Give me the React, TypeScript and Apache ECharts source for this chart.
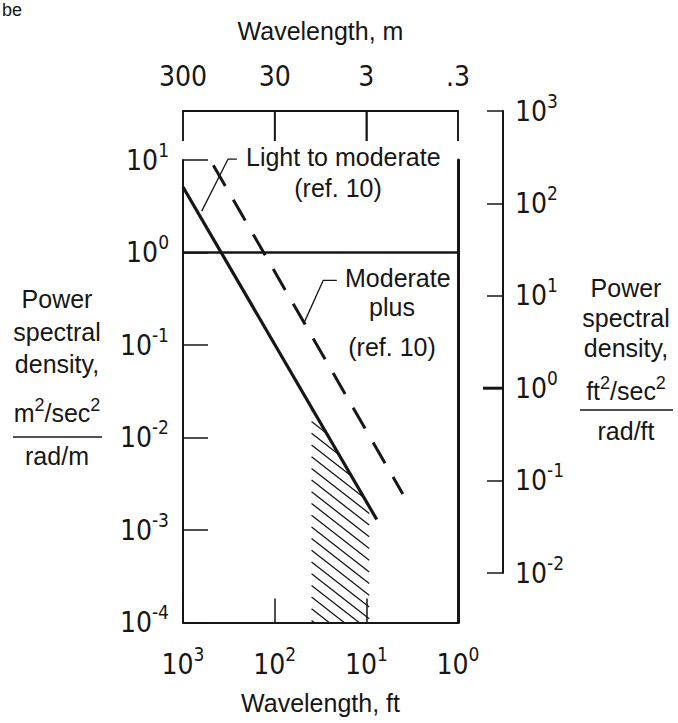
import React, { useEffect, useRef } from "react";
import * as echarts from "echarts";

// ---------------- data ----------------
const wavelengthFtRange = [1, 1000]; // bottom axis, ft
const topTickFt = [1000, 100, 10, 1]; // top-axis tick positions (ft)
const wavelengthMLabels = ["300", "30", "3", ".3"]; // top axis labels, m
const psdMetricRange = [1e-4, 10]; // left axis, m^2/sec^2 / rad/m
const psdImperialRange = [1e-2, 1e3]; // right axis, ft^2/sec^2 / rad/ft

// [wavelength ft, PSD m^2/sec^2/(rad/m)]
const lightToModerate: [number, number][] = [
  [1000, 5.1],
  [7.7, 1.3e-3],
];
const moderatePlus: [number, number][] = [
  [467, 8.8],
  [4.0, 2.45e-3],
];
const unitLevel: [number, number][] = [
  [1000, 1],
  [1, 1],
];
// hatched band under the solid line: [wavelength, PSD on line]
const hatchBand: [number, number][] = [
  [39.6, 0.021],
  [9.3, 0.0018],
];
const leaderLight: [number, number][] = [
  [625, 2.8],
  [323, 10.2],
  [258, 10.2],
];
const leaderPlus: [number, number][] = [
  [47, 0.18],
  [29.5, 0.5],
  [21, 0.5],
];
const imperialUnitMark: [number, number][] = [
  [0, 1],
  [1, 1],
];

// ---------------- styling ----------------
const INK = "#161616";
const SANS = "'Liberation Sans', Arial, sans-serif";
const NARROW =
  "'Liberation Sans Narrow', 'Arial Narrow', 'DejaVu Sans Condensed', 'Liberation Sans', sans-serif";
const TOP_OFFSET = 49;
const TOP_TICK_LEN = 30;

const expLabel = (v: number) => {
  const e = Math.round(Math.log10(v));
  return `{b|10}{s|${e}}`;
};
const richExp = {
  b: { fontSize: 28, fontFamily: NARROW, color: INK, lineHeight: 40 },
  s: {
    fontSize: 19,
    fontFamily: NARROW,
    color: INK,
    lineHeight: 14,
    verticalAlign: "top",
  },
};
const metreLabel = (v: number) => {
  const idx = 3 - Math.round(Math.log10(v));
  return wavelengthMLabels[idx] ?? "";
};

const txt = (text: string, x: number, y: number, extra: any = {}) => ({
  type: "text",
  x,
  y,
  silent: true,
  style: {
    text,
    fill: INK,
    fontSize: 25,
    fontFamily: SANS,
    textAlign: "center",
    textVerticalAlign: "middle",
    ...extra,
  },
});
const fracRich = {
  n: { fontSize: 25, fontFamily: SANS, color: INK, lineHeight: 34 },
  s: { fontSize: 18, fontFamily: SANS, color: INK, lineHeight: 14, verticalAlign: "top" },
};
const hline = (x1: number, x2: number, y: number) => ({
  type: "line",
  silent: true,
  shape: { x1, y1: y, x2, y2: y },
  style: { stroke: INK, lineWidth: 1.5 },
});

export default function App() {
  const ref = useRef<HTMLDivElement>(null);
  useEffect(() => {
    document.body.style.margin = "0";
    if (!ref.current) return;
    const chart = echarts.init(ref.current, undefined, { renderer: "svg" });

    const hatchRender = (params: any, api: any) => {
      const a = api.coord(hatchBand[0]);
      const b = api.coord(hatchBand[1]);
      const bottom = api.coord([hatchBand[0][0], psdMetricRange[0]])[1];
      const xL = a[0];
      const xR = b[0];
      const s = (b[1] - a[1]) / (xR - xL);
      const m = 0.78;
      const step = 11.7;
      const c0 = bottom - 2 - m * xL;
      const cMin = a[1] - m * xR - step;
      const cMax = bottom - m * xL + step;
      const children: any[] = [];
      for (let k = Math.floor((cMin - c0) / step); c0 + k * step <= cMax; k++) {
        const c = c0 + k * step;
        let lo = xL;
        let hi = xR;
        hi = Math.min(hi, (bottom - c) / m);
        const A = m - s;
        const B = a[1] - s * xL - c;
        if (A < 0) hi = Math.min(hi, B / A);
        else if (A > 0) lo = Math.max(lo, B / A);
        if (hi - lo > 0.5) {
          children.push({
            type: "line",
            shape: { x1: lo, y1: c + m * lo, x2: hi, y2: c + m * hi },
            style: { stroke: INK, lineWidth: 1.3 },
          });
        }
      }
      return { type: "group", children };
    };

    const noAxisExtras = {
      splitLine: { show: false },
      minorTick: { show: false },
      minorSplitLine: { show: false },
    };

    const baseGraphic: any[] = [
      txt("be", 2, 1, { textAlign: "left", textVerticalAlign: "top", fontSize: 18 }),
      // left axis title
      txt("Power", 57, 299),
      txt("spectral", 57, 332),
      txt("density,", 57, 364),
      txt("{n|m}{s|2}{n|/sec}{s|2}", 57, 413, { rich: fracRich }),
      hline(13, 102, 437),
      txt("rad/m", 57, 456),
      // right axis title
      txt("Power", 626, 288),
      txt("spectral", 626, 318),
      txt("density,", 626, 348),
      txt("{n|ft}{s|2}{n|/sec}{s|2}", 626, 391, { rich: fracRich }),
      hline(580, 673, 410),
      txt("rad/ft", 626, 431),
      // annotations
      txt("Light to moderate", 246, 157, { textAlign: "left" }),
      txt("(ref. 10)", 338, 188),
      txt("Moderate", 345, 278, { textAlign: "left" }),
      txt("plus", 392, 307),
      txt("(ref. 10)", 392, 347),
    ];

    chart.setOption({
      animation: false,
      backgroundColor: "#ffffff",
      grid: [
        { left: 183, top: 160, width: 275, height: 462.5, containLabel: false, outerBoundsMode: "none" },
        { left: 483, top: 111, width: 20, height: 462, containLabel: false, outerBoundsMode: "none" },
      ],
      xAxis: [
        {
          type: "log",
          gridIndex: 0,
          logBase: 10,
          min: wavelengthFtRange[0],
          max: wavelengthFtRange[1],
          inverse: true,
          splitNumber: 3,
          position: "bottom",
          axisLine: { show: true, onZero: false, lineStyle: { color: INK, width: 2 } },
          axisTick: { show: true, inside: true, length: 24, lineStyle: { color: INK, width: 1.5 } },
          axisLabel: {
            show: true,
            margin: 22,
            color: INK,
            formatter: expLabel,
            rich: richExp,
            hideOverlap: false,
            showMinLabel: true,
            showMaxLabel: true,
          },
          name: "Wavelength, ft",
          nameLocation: "middle",
          nameGap: 68,
          nameMoveOverlap: false,
          nameTextStyle: { color: INK, fontSize: 25, fontFamily: SANS },
          ...noAxisExtras,
        },
        {
          type: "log",
          gridIndex: 0,
          logBase: 10,
          min: wavelengthFtRange[0],
          max: wavelengthFtRange[1],
          inverse: true,
          splitNumber: 3,
          position: "top",
          offset: TOP_OFFSET,
          axisLine: { show: true, onZero: false, lineStyle: { color: INK, width: 2 } },
          axisTick: { show: true, inside: true, length: TOP_TICK_LEN, lineStyle: { color: INK, width: 1.5 } },
          axisLabel: {
            show: true,
            margin: 21,
            color: INK,
            fontSize: 28,
            fontFamily: NARROW,
            formatter: metreLabel,
            hideOverlap: false,
            showMinLabel: true,
            showMaxLabel: true,
          },
          name: "Wavelength, m",
          nameLocation: "middle",
          nameGap: 68,
          nameMoveOverlap: false,
          nameTextStyle: { color: INK, fontSize: 25, fontFamily: SANS },
          ...noAxisExtras,
        },
        {
          type: "value",
          gridIndex: 1,
          min: 0,
          max: 1,
          show: false,
          ...noAxisExtras,
        },
      ],
      yAxis: [
        {
          type: "log",
          gridIndex: 0,
          logBase: 10,
          min: psdMetricRange[0],
          max: psdMetricRange[1],
          splitNumber: 5,
          position: "left",
          axisLine: { show: true, onZero: false, lineStyle: { color: INK, width: 2 } },
          axisTick: { show: true, inside: true, length: 25, lineStyle: { color: INK, width: 1.5 } },
          axisLabel: {
            show: true,
            margin: 14,
            color: INK,
            formatter: expLabel,
            rich: richExp,
            hideOverlap: false,
            showMinLabel: true,
            showMaxLabel: true,
          },
          ...noAxisExtras,
        },
        {
          type: "log",
          gridIndex: 0,
          logBase: 10,
          min: psdMetricRange[0],
          max: psdMetricRange[1],
          position: "right",
          axisLine: { show: true, onZero: false, lineStyle: { color: INK, width: 3 } },
          axisTick: { show: false },
          axisLabel: { show: false },
          ...noAxisExtras,
        },
        {
          type: "log",
          gridIndex: 1,
          logBase: 10,
          min: psdImperialRange[0],
          max: psdImperialRange[1],
          splitNumber: 5,
          position: "right",
          axisLine: { show: true, onZero: false, lineStyle: { color: INK, width: 2 } },
          axisTick: { show: true, inside: true, length: 16, lineStyle: { color: INK, width: 1.5 } },
          axisLabel: {
            show: true,
            margin: 12,
            color: INK,
            formatter: expLabel,
            rich: richExp,
            hideOverlap: false,
            showMinLabel: true,
            showMaxLabel: true,
          },
          ...noAxisExtras,
        },
      ],
      series: [
        {
          type: "custom",
          name: "hatch",
          xAxisIndex: 0,
          yAxisIndex: 0,
          renderItem: hatchRender,
          data: [hatchBand[0]],
          silent: true,
          z: 1,
        },
        {
          type: "line",
          name: "Light to moderate",
          xAxisIndex: 0,
          yAxisIndex: 0,
          data: lightToModerate,
          symbol: "none",
          lineStyle: { color: INK, width: 3.2 },
          silent: true,
          z: 3,
        },
        {
          type: "line",
          name: "Moderate plus",
          xAxisIndex: 0,
          yAxisIndex: 0,
          data: moderatePlus,
          symbol: "none",
          lineStyle: { color: INK, width: 3, type: [24, 16] },
          silent: true,
          z: 3,
        },
        {
          type: "line",
          name: "unit",
          xAxisIndex: 0,
          yAxisIndex: 0,
          data: unitLevel,
          symbol: "none",
          lineStyle: { color: INK, width: 2.5 },
          silent: true,
          z: 3,
        },
        {
          type: "line",
          name: "leaderLight",
          xAxisIndex: 0,
          yAxisIndex: 0,
          data: leaderLight,
          symbol: "none",
          clip: false,
          lineStyle: { color: INK, width: 1.3 },
          silent: true,
        },
        {
          type: "line",
          name: "leaderPlus",
          xAxisIndex: 0,
          yAxisIndex: 0,
          data: leaderPlus,
          symbol: "none",
          clip: false,
          lineStyle: { color: INK, width: 1.3 },
          silent: true,
        },
        {
          type: "line",
          name: "imperialUnit",
          xAxisIndex: 2,
          yAxisIndex: 2,
          data: imperialUnitMark,
          symbol: "none",
          clip: false,
          lineStyle: { color: INK, width: 3 },
          silent: true,
        },
      ],
      graphic: baseGraphic,
    });

    // top (metre) axis bracket: a single polyline through each tick, positioned via the wavelength scale
    const gridTop = Number(chart.convertToPixel({ yAxisIndex: 0 }, psdMetricRange[1]));
    const axisY = (isFinite(gridTop) ? gridTop : 160) - TOP_OFFSET;
    const xs = topTickFt.map((v) => Number(chart.convertToPixel({ xAxisIndex: 0 }, v)));
    const pts: number[][] = [];
    xs.forEach((x, i) => {
      if (!isFinite(x)) return;
      if (i === 0) {
        pts.push([x, axisY + TOP_TICK_LEN], [x, axisY]);
      } else {
        pts.push([x, axisY], [x, axisY + TOP_TICK_LEN], [x, axisY]);
      }
    });
    chart.setOption({
      graphic: [
        ...baseGraphic,
        {
          type: "polyline",
          silent: true,
          zlevel: 5,
          z: 100,
          shape: { points: pts },
          style: { stroke: INK, lineWidth: 1.6, fill: "none" },
        },
      ],
    });

    return () => chart.dispose();
  }, []);
  return <div ref={ref} style={{ width: 678, height: 723 }} />;
}
